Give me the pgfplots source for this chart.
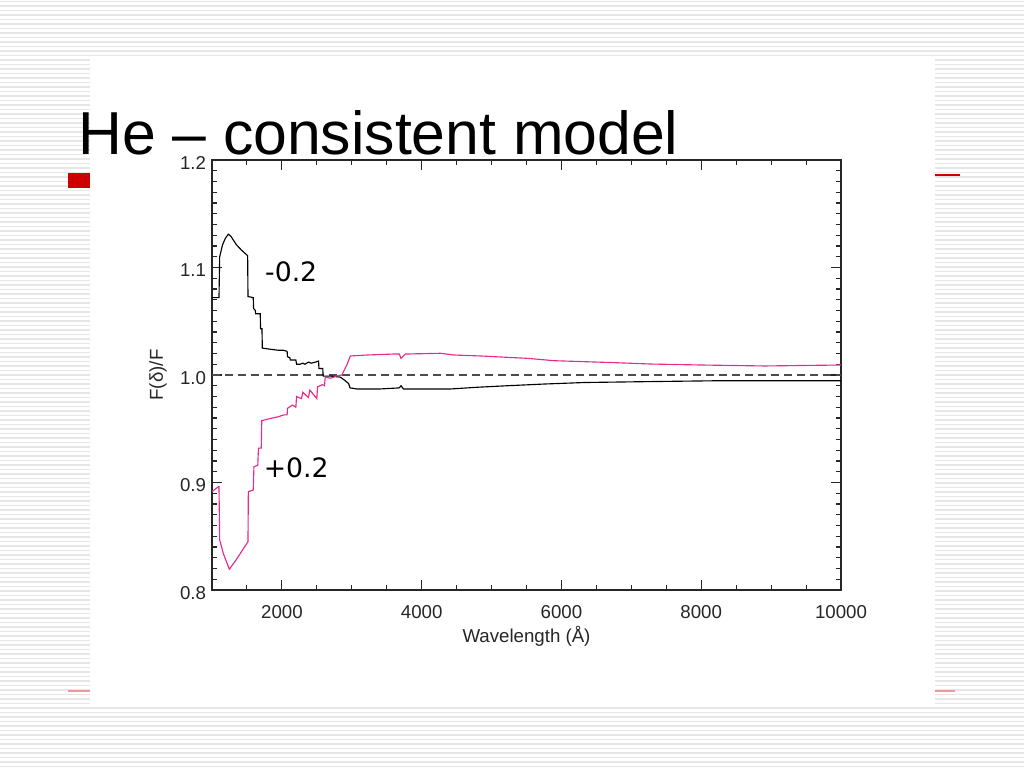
\documentclass[border=0pt]{standalone}
\usepackage{fontspec}
\setmainfont{Liberation Sans}
\newfontfamily\labelfont{DejaVu Sans}
\usepackage{pgfplots}
\pgfplotsset{compat=1.18}
\definecolor{pinkline}{RGB}{232,42,140}
\definecolor{slidered}{RGB}{204,0,0}
\definecolor{stripe}{RGB}{230,230,230}

% F(delta)/F for delta = -0.2
\pgfplotstableread{
x y
1000 1.072
1100 1.072
1110 1.110
1150 1.121
1190 1.127
1234 1.131
1270 1.129
1351 1.121
1425 1.116
1510 1.111
1515 1.073
1590 1.072
1595 1.062
1620 1.060
1625 1.057
1690 1.057
1695 1.043
1715 1.043
1720 1.025
1830 1.024
1950 1.023
2020 1.023
2075 1.022
2080 1.017
2115 1.016
2120 1.014
2200 1.014
2210 1.010
2260 1.010
2300 1.011
2330 1.010
2380 1.012
2420 1.011
2480 1.012
2525 1.013
2530 1.006
2585 1.006
2590 0.999
2700 0.999
2836 0.998
2900 0.995
2955 0.992
2975 0.988
3075 0.987
3400 0.987
3680 0.988
3704 0.990
3740 0.987
4413 0.987
4795 0.9886
5225 0.990
5752 0.9916
6325 0.993
7186 0.9938
8286 0.9947
10000 0.9947
}\minus

% F(delta)/F for delta = +0.2
\pgfplotstableread{
x y
1000 0.8915
1090 0.896
1100 0.896
1110 0.8465
1162 0.834
1248 0.8193
1351 0.8286
1515 0.845
1520 0.8915
1590 0.893
1600 0.9147
1655 0.916
1665 0.932
1705 0.932
1712 0.9575
1800 0.959
1951 0.9612
2022 0.9628
2075 0.963
2080 0.969
2150 0.972
2200 0.970
2210 0.980
2280 0.978
2300 0.984
2380 0.979
2400 0.986
2500 0.978
2510 0.989
2580 0.991
2610 0.990
2620 0.998
2700 0.997
2780 0.999
2857 1.000
2929 1.0093
2979 1.0177
3216 1.0186
3597 1.0195
3680 1.0195
3704 1.0155
3767 1.0195
4270 1.0202
4460 1.0186
4843 1.0177
5513 1.0155
5895 1.0133
6755 1.0115
7281 1.0102
7998 1.0093
8906 1.0084
10000 1.0093
}\plus

\begin{document}
\begin{tikzpicture}[x=0.75pt,y=0.75pt]
\useasboundingbox (0,0) rectangle (1024,768);
% slide background
\fill[white] (0,0) rectangle (1024,768);
\foreach \k in {0,...,170} {
  \draw[stripe, line width=1.1pt] (0,{766.5-4.5*\k}) -- (1024,{766.5-4.5*\k});
}
\fill[white] (90,63) rectangle (935,711);
\fill[slidered] (68,580) rectangle (90,595);
\draw[slidered, line width=1.1pt] (935,593) -- (960,593);
\draw[slidered!40, line width=1pt] (68,77) -- (90,77);
\draw[slidered!40, line width=1pt] (935,77) -- (955,77);
\coordinate (O) at (212,178);

\begin{axis}[
  scale only axis,
  width=471.75pt, height=322.5pt,
  anchor=south west, at={(O)},
  xmin=1000, xmax=10000, ymin=0.8, ymax=1.2,
  scaled x ticks=false, scaled y ticks=false,
  xtick={2000,4000,6000,8000,10000},
  xticklabels={2000,4000,6000,8000,10000},
  minor xtick={1500,2500,3000,3500,4500,5000,5500,6500,7000,7500,8500,9000,9500},
  ytick={0.8,0.9,1.0,1.1,1.2},
  yticklabels={0.8,0.9,1.0,1.1,1.2},
  minor ytick={0.81,0.82,...,1.195},
  tick align=inside,
  major tick length=7.5pt, minor tick length=3.75pt,
  axis line style={line width=0.9pt, black!85},
  every tick/.style={black!85, line width=0.8pt},
  /pgf/number format/assume math mode=true,
  tick label style={font=\fontsize{14}{14}\selectfont, text=black!85},
  xticklabel style={yshift=-8pt},
  yticklabel style={xshift=-1pt, yshift=-2pt},
  label style={font=\fontsize{14}{14}\selectfont, text=black!85},
  xlabel={Wavelength (Å)},
  ylabel={F(δ)/F},
  xlabel style={at={(axis description cs:0.5,-0.107)}, anchor=center},
  ylabel style={at={(axis description cs:-0.0859,0.5)}, anchor=center},
  clip=true,
]
\addplot[black!70, line width=1pt, dash pattern=on 6pt off 3.75pt] coordinates {(1000,1) (10000,1)};
\addplot[black, line width=0.85pt] table[x=x,y=y] {\minus};
\addplot[pinkline, line width=0.85pt] table[x=x,y=y] {\plus};
\node[font=\labelfont\fontsize{20}{20}\selectfont] at (axis cs:2133,1.0958) {-0.2};
\node[font=\labelfont\fontsize{20}{20}\selectfont] at (axis cs:2205,0.9135) {+0.2};
\end{axis}

\node[anchor=base west, inner sep=0, font=\fontsize{45.5}{45.5}\selectfont] at (78,613) {He – consistent model};
\end{tikzpicture}
\end{document}
